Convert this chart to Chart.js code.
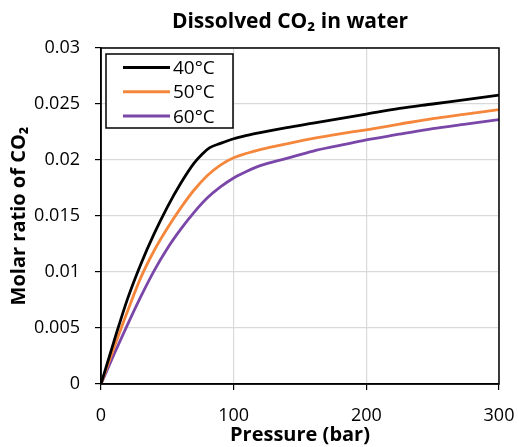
<!DOCTYPE html>
<html>
<head>
<meta charset="utf-8">
<script src="https://cdn.jsdelivr.net/npm/chart.js@4/dist/chart.umd.min.js"></script>
<style>
html,body{margin:0;padding:0;background:#fff;}
#wrap{width:519px;height:447px;}
</style>
</head>
<body>
<div id="wrap"><canvas id="c" width="519" height="447"></canvas></div>
<script>
const seriesLabels = ['40°C', '50°C', '60°C'];
const pressure40 = [0, 10, 20, 30, 40, 50, 60, 70, 76, 82, 90, 100, 110, 120, 140, 160, 180, 200, 225, 250, 275, 300];
const ratio40 = [0, 0.0039, 0.0076, 0.0107, 0.0134, 0.0158, 0.0179, 0.0197, 0.0205, 0.0211, 0.02148, 0.0219, 0.0222, 0.02245, 0.0229, 0.0233, 0.0237, 0.0241, 0.0246, 0.0250, 0.0254, 0.0258];
const pressure50 = [0, 10, 20, 30, 40, 50, 60, 70, 80, 90, 100, 110, 120, 140, 160, 180, 200, 225, 250, 275, 300];
const ratio50 = [0, 0.0033, 0.0065, 0.0095, 0.0119, 0.0139, 0.0157, 0.0173, 0.0186, 0.01955, 0.0202, 0.0206, 0.02093, 0.02145, 0.02192, 0.02233, 0.0227, 0.0232, 0.0237, 0.0241, 0.0245];
const pressure60 = [0, 10, 20, 30, 40, 50, 60, 70, 80, 90, 100, 110, 120, 140, 160, 180, 200, 225, 250, 275, 300];
const ratio60 = [0, 0.0027, 0.0053, 0.0078, 0.0101, 0.0121, 0.0138, 0.0153, 0.0166, 0.0176, 0.0184, 0.0190, 0.0195, 0.02015, 0.0208, 0.0213, 0.0218, 0.0223, 0.0228, 0.0232, 0.0236];
const xTicks = [0, 100, 200, 300];
const yTicks = [0, 0.005, 0.01, 0.015, 0.02, 0.025, 0.03];
const yTickLabels = ['0', '0.005', '0.01', '0.015', '0.02', '0.025', '0.03'];
const colors = ['#000000', '#f4873b', '#7a47a9'];

function pts(xs, ys){ return xs.map((x,i)=>({x:x, y:ys[i]})); }

const FONT = "'Open Sans', 'DejaVu Sans', sans-serif";

const borderPlugin = {
  id: 'frame',
  afterLayout(chart){
    if (chart.titleBlock) { chart.titleBlock.left -= 20; }
  },
  afterDraw(chart){
    const {ctx, chartArea:a} = chart;
    ctx.save();
    ctx.strokeStyle = '#000';
    ctx.lineWidth = 1.5;
    ctx.strokeRect(a.left, a.top, a.right - a.left, a.bottom - a.top);
    // legend box
    const bx = a.left + 5, by = a.top + 6, bw = 127, bh = 74;
    ctx.fillStyle = '#fff';
    ctx.fillRect(bx, by, bw, bh);
    ctx.lineWidth = 1.5;
    ctx.strokeStyle = '#000';
    ctx.strokeRect(bx, by, bw, bh);
    ctx.font = "19px " + FONT;
    ctx.textBaseline = 'middle';
    ctx.textAlign = 'left';
    chart.data.datasets.forEach((ds, i) => {
      const y = by + 13.5 + i * 24.3;
      ctx.strokeStyle = ds.borderColor;
      ctx.lineWidth = 3;
      ctx.beginPath();
      ctx.moveTo(bx + 17, y);
      ctx.lineTo(bx + 64, y);
      ctx.stroke();
      ctx.fillStyle = '#000';
      ctx.fillText(ds.label, bx + 67, y + 1);
    });
    ctx.restore();
  }
};

new Chart(document.getElementById('c'), {
  type: 'scatter',
  data: {
    datasets: [
      {label: seriesLabels[0], data: pts(pressure40, ratio40), borderColor: colors[0]},
      {label: seriesLabels[1], data: pts(pressure50, ratio50), borderColor: colors[1]},
      {label: seriesLabels[2], data: pts(pressure60, ratio60), borderColor: colors[2]}
    ].map(d => Object.assign(d, {showLine: true, pointRadius: 0, borderWidth: 2.8, cubicInterpolationMode: 'monotone', fill: false, backgroundColor: d.borderColor}))
  },
  options: {
    responsive: false,
    animation: false,
    layout: {padding: {left: 0, right: 20, top: 0, bottom: 0}},
    plugins: {
      legend: {display: false},
      tooltip: {enabled: false},
      title: {
        display: true,
        fullSize: false,
        text: 'Dissolved CO₂ in water',
        color: '#000',
        font: {family: FONT, size: 21, weight: 'bold', lineHeight: 1.2},
        padding: {top: 9.5, bottom: 13.3}
      }
    },
    scales: {
      x: {
        type: 'linear',
        min: 0, max: 300,
        afterBuildTicks: s => { s.ticks = xTicks.map(v => ({value: v})); },
        afterFit: s => { s.height = 63; s.paddingLeft = 0; s.paddingRight = 0; },
        ticks: {color: '#000', font: {family: FONT, size: 18}, padding: 15, maxRotation: 0},
        grid: {color: '#d9d9d9', lineWidth: 1.2, tickColor: '#000', tickLength: 6},
        border: {color: '#000', width: 1.5},
        title: {display: true, text: 'Pressure (bar)', color: '#000', font: {family: FONT, size: 20, weight: 'bold', lineHeight: 1.2}, padding: {top: 0, bottom: 0}}
      },
      y: {
        type: 'linear',
        min: 0, max: 0.03,
        afterBuildTicks: s => { s.ticks = yTicks.map(v => ({value: v})); },
        afterFit: s => { s.width = 101; },
        ticks: {color: '#000', font: {family: FONT, size: 18}, padding: 15,
          callback: (v, i) => yTickLabels[i]},
        grid: {color: '#d9d9d9', lineWidth: 1.2, tickColor: '#000', tickLength: 6},
        border: {color: '#000', width: 1.5},
        title: {display: true, text: 'Molar ratio of CO₂', color: '#000', font: {family: FONT, size: 20, weight: 'bold', lineHeight: 1.2}, padding: {top: 7, bottom: 0}}
      }
    }
  },
  plugins: [borderPlugin]
});
</script>
</body>
</html>
